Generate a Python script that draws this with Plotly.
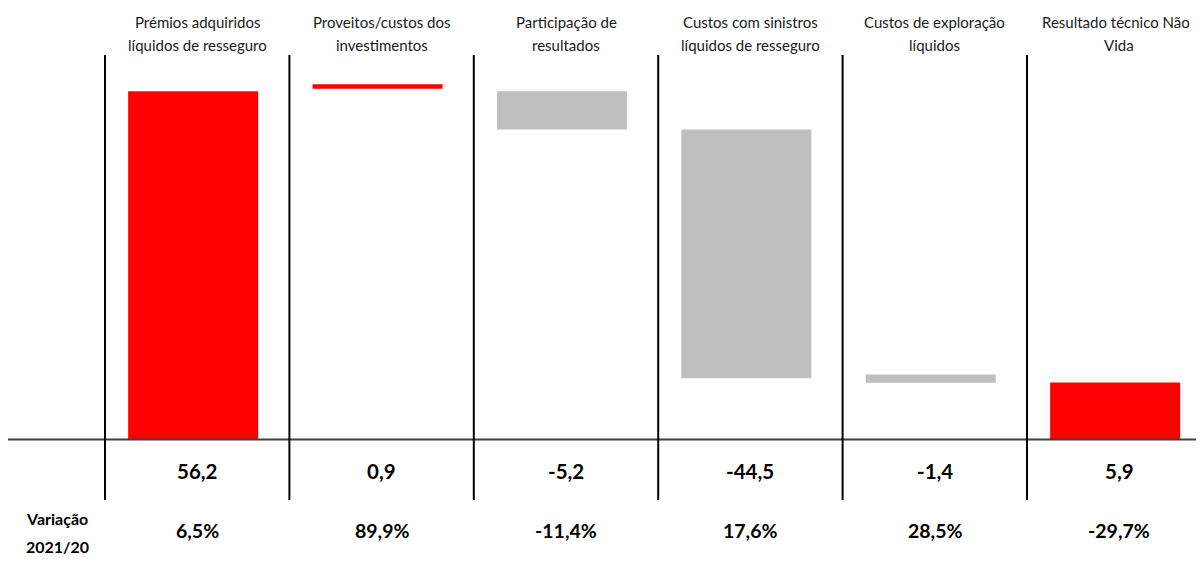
import plotly.graph_objects as go

# column headers (two lines each)
header_top = ['Prémios adquiridos', 'Proveitos/custos dos', 'Participação de',
              'Custos com sinistros', 'Custos de exploração', 'Resultado técnico Não']
header_bot = ['líquidos de resseguro', 'investimentos', 'resultados',
              'líquidos de resseguro', 'líquidos', 'Vida']

# values shown under the axis
values = ['56,2', '0,9', '-5,2', '-44,5', '-1,4', '5,9']
variation = ['6,5%', '89,9%', '-11,4%', '17,6%', '28,5%', '-29,7%']

# bar extents as drawn in the picture (bottom / top)
bar_low = [0, 56.6, 50.0, 9.9, 9.15, 0]
bar_high = [56.2, 57.3, 56.2, 50.0, 10.5, 9.2]
bar_kind = ['total', 'up', 'down', 'down', 'down', 'total']

RED = '#FF0000'
GREY = '#BFBFBF'
FONT = 'Lato'

# the page body adds an 8px margin, so positions below are reference pixels minus OFF
OFF = 8
W, H = 1204 - OFF, 578 - OFF
xs = list(range(1, len(values) + 1))
colors = [GREY if k == 'down' else RED for k in bar_kind]


def py(p):
    # reference pixel row -> paper y
    return 1 - (p - OFF) / H


fig = go.Figure()
fig.add_trace(go.Bar(
    x=xs,
    y=[h - l for h, l in zip(bar_high, bar_low)],
    base=bar_low,
    width=0.705,
    offset=-0.3745,
    marker=dict(color=colors, line=dict(width=0)),
    hoverinfo='skip',
    showlegend=False,
))

# baseline
fig.add_shape(type='line', xref='paper', yref='y', x0=0, x1=1, y0=0, y1=0,
              line=dict(color='#404040', width=2))

# column separators
for i in range(len(values)):
    fig.add_shape(type='line', xref='x', yref='paper', x0=i + 0.5, x1=i + 0.5,
                  y0=py(55), y1=py(500),
                  line=dict(color='black', width=2))

ann = []
for i, x in enumerate(xs):
    ann.append(dict(x=x, y=py(22), text=header_top[i]))
    ann.append(dict(x=x, y=py(45), text=header_bot[i]))
    ann.append(dict(x=x, y=py(471), text='<b>%s</b>' % values[i],
                    font=dict(family=FONT, size=20.5, color='black')))
    ann.append(dict(x=x, y=py(530), text='<b>%s</b>' % variation[i],
                    font=dict(family=FONT, size=19.5, color='black')))
for a in ann:
    a.update(xref='x', yref='paper', showarrow=False, xanchor='center', yanchor='middle')
    a.setdefault('font', dict(family=FONT, size=15, color='#1a1a1a'))
# last header sits a little left of its column centre in the reference
ann[-4]['x'] = xs[-1] - 0.02

for txt, row in [('<b>Variação</b>', 518), ('<b>2021/20</b>', 546)]:
    ann.append(dict(x=(57 - OFF) / W, y=py(row), xref='paper', yref='paper',
                    xanchor='center', yanchor='middle', text=txt, showarrow=False,
                    font=dict(family=FONT, size=16, color='black')))

# pixel -> data scale
px_per_unit = 6.198
zero_px = 439.5 - OFF
col_px = 184.4
xmin = 0.5 - (105 - OFF) / col_px
xmax = xmin + W / col_px

fig.update_layout(
    width=W, height=H,
    margin=dict(l=0, r=0, t=0, b=0),
    paper_bgcolor='white', plot_bgcolor='white',
    annotations=ann,
    xaxis=dict(range=[xmin, xmax], visible=False, fixedrange=True),
    yaxis=dict(range=[-(H - zero_px) / px_per_unit, zero_px / px_per_unit],
               visible=False, fixedrange=True),
    font=dict(family=FONT),
)

fig.write_html('out.html')
